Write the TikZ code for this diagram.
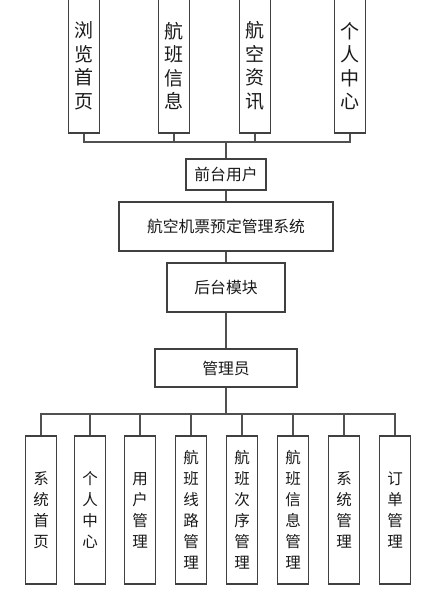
\documentclass[tikz,border=0pt]{standalone}
\usepackage{fontspec}
\setmainfont{Noto Sans CJK SC}
\usepackage{tikz}
\usetikzlibrary{calc}

\definecolor{boxline}{HTML}{404040}
\definecolor{wire}{HTML}{505050}
\definecolor{ink}{HTML}{1A1A1A}

\tikzset{
	box/.style = {draw = boxline, line width = 1.1pt, fill = white, text = ink, inner sep = 0pt, align = center},
	topbox/.style = {box, minimum width = 31pt, minimum height = 134pt, font = \fontsize{19}{23.5}\selectfont},
	midbox/.style = {box, font = \fontsize{15.8}{18}\selectfont},
	lowbox/.style = {box, minimum width = 31pt, minimum height = 148pt, font = \fontsize{15.5}{21}\selectfont},
	wire/.style = {draw = wire, line width = 1.3pt}
}

\begin{document}
\begin{tikzpicture}[x = 1pt, y = -1pt]
					\useasboundingbox (0,0) rectangle (432,591);
		
					% top row
					\foreach \x/\t [count = \i] in {84/浏\\览\\首\\页, 174/航\\班\\信\\息, 255/航\\空\\资\\讯, 350/个\\人\\中\\心}
					{
						\node [topbox] (top\i) at (\x,66) {\t};
					}
		
					\node [midbox, minimum width = 80pt, minimum height = 31pt] (front) at (226,174.5) {前台用户};
					\node [midbox, minimum width = 214pt, minimum height = 49pt] (sys) at (226,226.5) {航空机票预定管理系统};
					\node [midbox, minimum width = 118pt, minimum height = 49pt] (back) at (226,287.5) {后台模块};
					\node [midbox, minimum width = 142pt, minimum height = 38pt] (admin) at (226,368) {管理员};
		
					% bottom row
					\foreach \x/\t [count = \i] in {41/系\\统\\首\\页, 90/个\\人\\中\\心, 140/用\\户\\管\\理, 191/航\\班\\线\\路\\管\\理, 242/航\\班\\次\\序\\管\\理, 293/航\\班\\信\\息\\管\\理, 344/系\\统\\管\\理, 395/订\\单\\管\\理}
					{
						\node [lowbox] (low\i) at (\x,510) {\t};
					}
		
					\coordinate (upbus) at (226,142);
					\coordinate (lowbus) at (226,414);
		
					\begin{scope}[wire]
						\foreach \i in {1,...,4}
						{
							\draw (top\i.south) |- (upbus);
						}
						\draw (upbus) -- (front.north);
						\draw (front) -- (sys);
						\draw (sys) -- (back);
						\draw (back) -- (admin);
						\draw (admin.south) -- (lowbus);
						\foreach \i in {1,...,8}
						{
							\draw (lowbus) -| (low\i.north);
						}
					\end{scope}
				\end{tikzpicture}
\end{document}
